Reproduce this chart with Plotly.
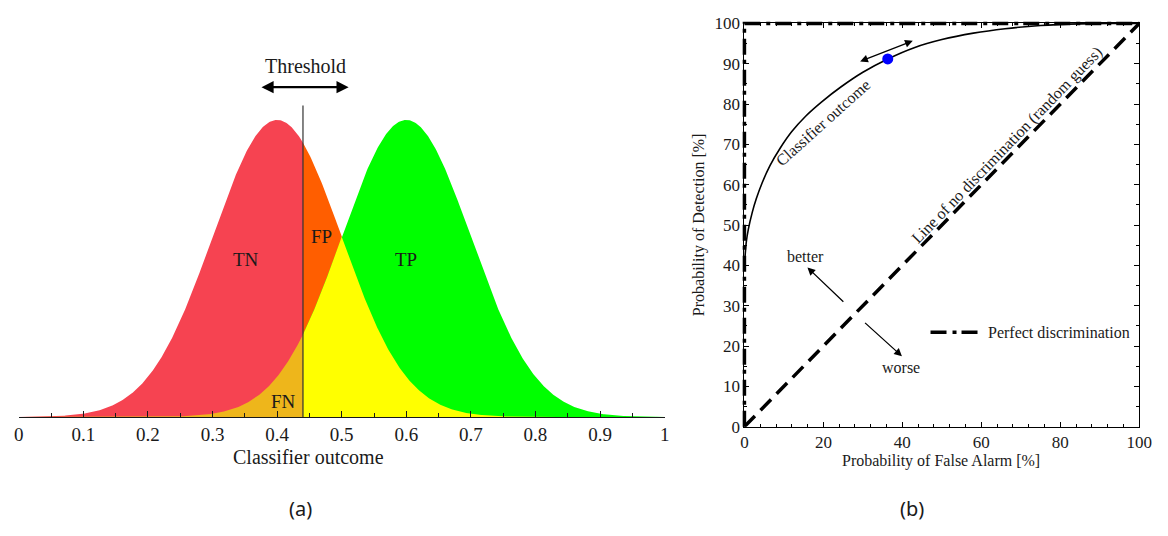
import numpy as np
import plotly.graph_objects as go

# ---- Panel (a): class-conditional score distributions ----
NEG_MEAN = 0.4      # negative class (red)
POS_MEAN = 0.6      # positive class (green)
SIGMA = 0.1
THRESHOLD = 0.44

REGION_LABELS = ["TN", "FP", "FN", "TP"]
REGION_X = [0.352, 0.468, 0.41, 0.600]
REGION_Y = [2.11, 2.42, 0.21, 2.11]

COL_TN = "#F64351"
COL_FP = "#FF5E00"
COL_FN = "#EEB61B"
COL_TP = "#00FF00"
COL_OVERLAP = "#FFFF00"

# ---- Panel (b): ROC curve (false alarm % vs detection %) ----
ROC_FPR = [0, 0.5, 1, 2, 3, 4.5, 6.5, 9, 12, 15.5, 19.5, 24.5, 30, 36.3,
           43, 50, 58, 66, 75, 85, 93, 100]
ROC_TPR = [40, 46, 49, 53.2, 56.5, 60.5, 64.8, 69.0, 73.2, 77.0, 80.5, 84.3, 87.9, 91.2,
           94.0, 96.0, 97.6, 98.7, 99.5, 99.9, 100, 100]
OPERATING_FPR = [36.3]
OPERATING_TPR = [91.2]
CHANCE_X = [0, 100]
CHANCE_Y = [0, 100]
PERFECT_X = [0, 0, 100]
PERFECT_Y = [0, 100, 100]

# ---- page geometry (pixels) ----
W, H = 1168, 536
A_X0, A_X1 = 14, 670          # x = 0 and x = 1 of panel (a)
A_Y0, A_PEAK, A_TOP = 423, 115, 30
B_X0, B_X1 = 751, 1152        # 0 % and 100 % of panel (b)
B_Y0, B_Y1 = 433, 15

SERIF = "Liberation Serif, Times New Roman, serif"
SANS = "Noto Sans, Open Sans, sans-serif"
INK = "#1a1a1a"


def normal_pdf(x, mu, s):
    return np.exp(-0.5 * ((x - mu) / s) ** 2) / (s * np.sqrt(2 * np.pi))


x = np.linspace(0, 1, 801)
x = np.unique(np.append(x, THRESHOLD))
neg = normal_pdf(x, NEG_MEAN, SIGMA)
pos = normal_pdf(x, POS_MEAN, SIGMA)
both = np.minimum(neg, pos)
left = x <= THRESHOLD
right = x >= THRESHOLD

a_scale = (A_Y0 - A_PEAK) / normal_pdf(NEG_MEAN, NEG_MEAN, SIGMA)  # px per density unit
a_ymax = (A_Y0 - A_TOP) / a_scale


def px_a(px):
    return (px - A_X0) / (A_X1 - A_X0)


def py_a(py):
    return (A_Y0 - py) / a_scale


bx_scale = (B_X1 - B_X0) / 100.0
by_scale = (B_Y0 - B_Y1) / 100.0


def px_b(px):
    return (px - B_X0) / bx_scale


def py_b(py):
    return (B_Y0 - py) / by_scale


fig = go.Figure()


def area(xs, ys, color):
    fig.add_trace(go.Scatter(x=xs, y=ys, mode="lines", fill="tozeroy",
                             fillcolor=color, line=dict(width=0, color=color),
                             hoverinfo="skip", showlegend=False,
                             xaxis="x", yaxis="y"))


area(x[left], neg[left], COL_TN)
area(x[left], both[left], COL_FN)
area(x[right], neg[right], COL_FP)
area(x[right], pos[right], COL_TP)
area(x[right], both[right], COL_OVERLAP)

# chance diagonal
fig.add_trace(go.Scatter(x=CHANCE_X, y=CHANCE_Y, mode="lines",
                         line=dict(color="black", width=3.5, dash="15px,8px"),
                         hoverinfo="skip", showlegend=False,
                         xaxis="x2", yaxis="y2"))
# perfect discrimination (drawn on a slightly larger overlay so the edge line isn't clipped)
fig.add_trace(go.Scatter(x=PERFECT_X, y=PERFECT_Y, mode="lines",
                         line=dict(color="black", width=3.5, dash="16px,6px,4px,5px"),
                         hoverinfo="skip", showlegend=False,
                         xaxis="x3", yaxis="y3"))
# ROC curve
fig.add_trace(go.Scatter(x=ROC_FPR, y=ROC_TPR, mode="lines",
                         line=dict(color="black", width=1.6, shape="spline", smoothing=1.0),
                         hoverinfo="skip", showlegend=False,
                         xaxis="x3", yaxis="y3"))
# operating point
fig.add_trace(go.Scatter(x=OPERATING_FPR, y=OPERATING_TPR, mode="markers",
                         marker=dict(color="#0000FF", size=11),
                         hoverinfo="skip", showlegend=False,
                         xaxis="x3", yaxis="y3"))

ext = 10  # px of extra room for the overlay subplot
fig.update_layout(
    width=W, height=H,
    margin=dict(l=0, r=0, t=0, b=0),
    paper_bgcolor="white", plot_bgcolor="rgba(0,0,0,0)",
    xaxis=dict(domain=[A_X0 / W, A_X1 / W], range=[0, 1], anchor="y",
               showline=True, linecolor=INK, linewidth=1,
               ticks="inside", ticklen=6, tickwidth=1, tickcolor=INK, dtick=0.1,
               minor=dict(dtick=0.05, ticks="inside", ticklen=4, tickcolor=INK, showgrid=False),
               showgrid=False, zeroline=False,
               tickfont=dict(family=SERIF, size=19, color=INK)),
    yaxis=dict(domain=[1 - A_Y0 / H, 1 - A_TOP / H], range=[0, a_ymax], anchor="x",
               visible=False),
    xaxis2=dict(domain=[B_X0 / W, B_X1 / W], range=[0, 100], anchor="y2",
                showline=True, mirror="ticks", linecolor="black", linewidth=1,
                ticks="inside", ticklen=5, tickcolor="black", dtick=20,
                minor=dict(dtick=4, ticks="inside", ticklen=3, tickcolor="black", showgrid=False),
                showgrid=False, zeroline=False,
                tickfont=dict(family=SERIF, size=17, color=INK)),
    yaxis2=dict(domain=[1 - B_Y0 / H, 1 - B_Y1 / H], range=[0, 100], anchor="x2",
                showline=True, mirror="ticks", linecolor="black", linewidth=1,
                ticks="inside", ticklen=5, tickcolor="black", dtick=10,
                minor=dict(dtick=5, ticks="inside", ticklen=3, tickcolor="black", showgrid=False),
                showgrid=False, zeroline=False,
                tickfont=dict(family=SERIF, size=17, color=INK)),
    xaxis3=dict(domain=[(B_X0 - ext) / W, (B_X1 + ext) / W],
                range=[-ext / bx_scale, 100 + ext / bx_scale], anchor="y3", visible=False),
    yaxis3=dict(domain=[1 - (B_Y0 + ext) / H, 1 - (B_Y1 - ext) / H],
                range=[-ext / by_scale, 100 + ext / by_scale], anchor="x3", visible=False),
)

# threshold line
fig.add_shape(type="line", xref="x", yref="y", x0=THRESHOLD, x1=THRESHOLD,
              y0=0, y1=py_a(100), line=dict(color="#333333", width=1.2))
# legend key for perfect discrimination
fig.add_shape(type="line", xref="x2", yref="y2", x0=px_b(940), x1=px_b(988), y0=py_b(335), y1=py_b(335),
              line=dict(color="black", width=3.5, dash="16px,6px,4px,5px"))


def label(text, x, y, xref, yref, size, family=SERIF, angle=0, xanchor="center"):
    return dict(x=x, y=y, xref=xref, yref=yref, text=text, showarrow=False,
                xanchor=xanchor, yanchor="middle", textangle=angle,
                font=dict(family=family, size=size, color=INK))


def arrow(x0, y0, x1, y1, xref, yref, width, size, both_ends=False):
    return dict(x=x1, y=y1, ax=x0, ay=y0, xref=xref, yref=yref, axref=xref, ayref=yref,
                text="", showarrow=True, arrowside="end+start" if both_ends else "end",
                arrowhead=2, arrowsize=size, arrowwidth=width, arrowcolor="black")


def paper(label_text, px, py, size, family=SERIF, angle=0):
    return label(label_text, px / W, 1 - py / H, "paper", "paper", size, family=family, angle=angle)


ann = [label(t, lx, ly, "x", "y", 19) for t, lx, ly in zip(REGION_LABELS, REGION_X, REGION_Y)]

ann += [
    label("Threshold", px_a(305), py_a(59), "x", "y", 20),
    arrow(px_a(259), py_a(81), px_a(349), py_a(81), "x", "y", 2.2, 1.1, both_ends=True),
    paper("Classifier outcome", 308, 464, 20),
    # panel (b)
    label("Classifier outcome", px_b(831), py_b(118), "x2", "y2", 16, angle=-42),
    label("Line of no discrimination (random guess)", px_b(1018), py_b(141), "x2", "y2", 16, angle=-46),
    label("better", px_b(813), py_b(257), "x2", "y2", 16),
    label("worse", px_b(910), py_b(372), "x2", "y2", 16),
    arrow(px_b(853), py_b(305), px_b(815), py_b(268), "x2", "y2", 1.3, 1.2),
    arrow(px_b(872), py_b(324), px_b(911), py_b(360), "x2", "y2", 1.3, 1.2),
    arrow(px_b(867), py_b(55), px_b(922), py_b(33), "x2", "y2", 1.3, 1.2, both_ends=True),
    label("Perfect discrimination", px_b(996), py_b(335), "x2", "y2", 16, xanchor="left"),
    paper("Probability of Detection [%]", 705, 224, 16, angle=-90),
    paper("Probability of False Alarm [%]", 951, 469, 16),
    # panel captions
    paper("(a)", 300, 518, 20, family=SANS),
    paper("(b)", 921, 518, 20, family=SANS),
]
fig.update_layout(annotations=ann)

fig.write_html("out.html")
